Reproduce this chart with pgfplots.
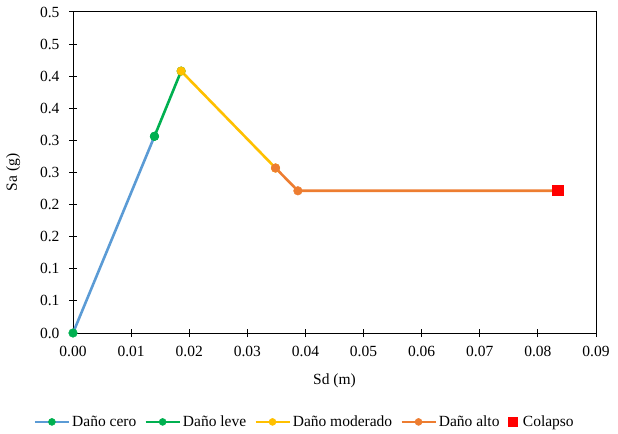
\documentclass[border=0pt]{standalone}
\usepackage{fontspec}
\setmainfont{Liberation Serif}
\usepackage{pgfplots}
\pgfplotsset{compat=1.18}
\definecolor{cblue}{HTML}{5B9BD5}
\definecolor{cgreen}{HTML}{00B050}
\definecolor{cyellow}{HTML}{FFC000}
\definecolor{corange}{HTML}{ED7D31}
\definecolor{cred}{HTML}{FF0000}
\begin{document}
\begin{tikzpicture}
\begin{axis}[name=ax, scale only axis, width=523pt, height=321pt,
  xmin=0, xmax=0.09, ymin=0, ymax=0.5,
  scaled x ticks=false, scaled y ticks=false,
  xtick={0,0.01,0.02,0.03,0.04,0.05,0.06,0.07,0.08,0.09},
  xticklabels={0.00,0.01,0.02,0.03,0.04,0.05,0.06,0.07,0.08,0.09},
  ytick={0,0.05,0.1,0.15,0.2,0.25,0.3,0.35,0.4,0.45,0.5},
  yticklabels={0.0,0.1,0.1,0.2,0.2,0.3,0.3,0.4,0.4,0.5,0.5},
  tick align=center, tick pos=left, major tick length=8pt,
  every tick/.style={black, line width=1pt},
  axis line style={black, line width=1pt},
  tick label style={font=\fontsize{15.5}{18}\selectfont},
  xticklabel style={yshift=-6pt},
  yticklabel style={xshift=-6pt},
  label style={font=\fontsize{15.5}{18}\selectfont},
  xlabel={Sd (m)}, ylabel={Sa (g)},
  xlabel style={yshift=-10pt},
  ylabel style={yshift=13pt},
  clip=false,
  legend columns=-1,
  legend style={draw=none, fill=none, font=\fontsize{15.5}{18}\selectfont,
    at={(axis description cs:0.443,-0.277)}, anchor=center,
    /tikz/every even column/.append style={column sep=6pt},
    /tikz/every odd column/.append style={column sep=0pt}},
  legend image code/.code={\draw[mark repeat=2,mark phase=2,#1,mark size=3.5pt] plot coordinates {(0pt,0pt) (17pt,0pt) (34pt,0pt)};},
]
\addplot[cblue, line width=2.6pt, mark=*, mark size=4.3pt, mark options={solid, fill=cgreen, draw=cgreen, line width=0.5pt}]
  coordinates {(0,0) (0.01402,0.3064)};
\addlegendentry{Daño cero}
\addplot[cgreen, line width=2.6pt, mark=*, mark size=4.3pt, mark options={solid, fill=cgreen, draw=cgreen, line width=0.5pt}]
  coordinates {(0.01402,0.3064) (0.01861,0.408)};
\addlegendentry{Daño leve}
\addplot[cyellow, line width=2.6pt, mark=*, mark size=4.3pt, mark options={solid, fill=cyellow, draw=cyellow, line width=0.5pt}]
  coordinates {(0.01861,0.408) (0.03485,0.257)};
\addlegendentry{Daño moderado}
\addplot[corange, line width=2.6pt, mark=*, mark size=4.3pt, mark options={solid, fill=corange, draw=corange, line width=0.5pt}]
  coordinates {(0.03485,0.257) (0.0387,0.2215) (0.0834,0.2215)};
\addlegendentry{Daño alto}
\addplot[only marks, mark=square*, mark size=5.4pt, mark options={fill=cred, draw=cred, line width=0.5pt},
  legend image code/.code={\fill[cred] (12.5pt,-4.5pt) rectangle (21.5pt,4.5pt);}]
  coordinates {(0.0834,0.2225)};
\addlegendentry{\hspace{4pt}Colapso}
\end{axis}
\pgfresetboundingbox
\path ([shift={(-73pt,-100pt)}]ax.south west) rectangle ([shift={(22pt,12pt)}]ax.north east);
\end{tikzpicture}
\end{document}
